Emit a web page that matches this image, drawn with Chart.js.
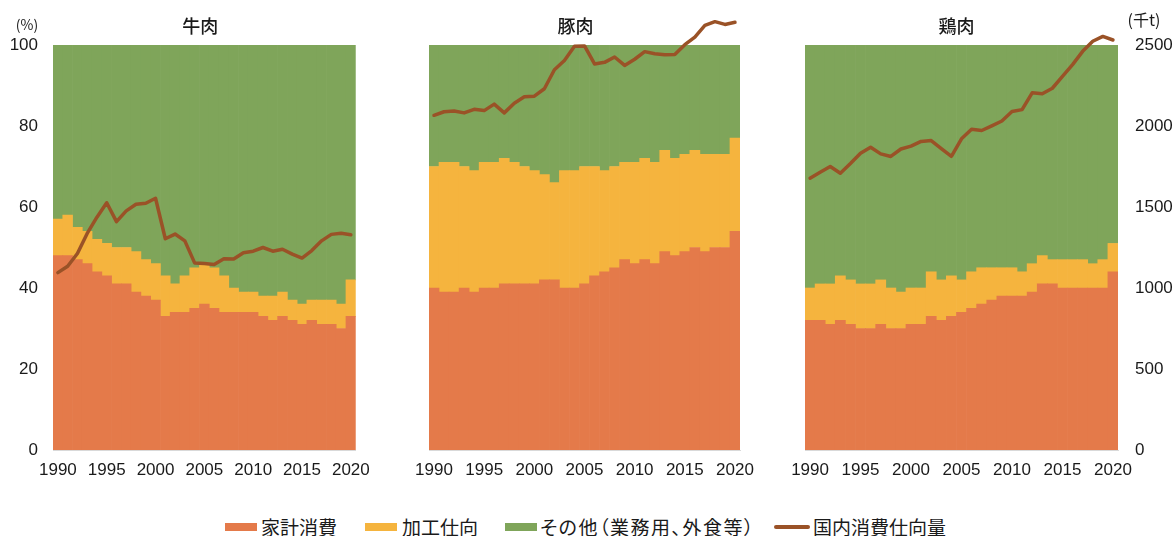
<!DOCTYPE html>
<html><head><meta charset="utf-8">
<script src="https://cdn.jsdelivr.net/npm/chart.js@4/dist/chart.umd.min.js"></script>
<style>
body{margin:0;background:#fff;width:1174px;height:536px;position:relative;overflow:hidden;font-family:"Noto Sans CJK JP",sans-serif;}
canvas{position:absolute;top:0;}
.box{position:absolute;}
.lt{position:absolute;top:516px;font-size:19px;line-height:22px;color:#1a1a1a;white-space:nowrap;}
</style></head><body>
<canvas id="c1" width="380" height="490" style="left:0px"></canvas>
<canvas id="c2" width="390" height="490" style="left:380px"></canvas>
<canvas id="c3" width="404" height="490" style="left:770px"></canvas>
<div id="legend"></div>
<script>
const years = ['1990','1991','1992','1993','1994','1995','1996','1997','1998','1999','2000','2001','2002','2003','2004','2005','2006','2007','2008','2009','2010','2011','2012','2013','2014','2015','2016','2017','2018','2019','2020'];
const seriesNames = ['家計消費','加工仕向','その他（業務用、外食等）','国内消費仕向量'];
const panelTitles = ['牛肉','豚肉','鶏肉'];
const pctTicks = [0,20,40,60,80,100];
const volTicks = [0,500,1000,1500,2000,2500];

// 牛肉 (%)
const beefHousehold  = [48,48,47,46,44,43,41,41,39,38,37,33,34,34,35,36,35,34,34,34,34,33,32,33,32,31,32,31,31,30,33];
const beefProcessing = [9,10,8,8,8,8,9,9,10,9,9,10,7,9,10,10,10,9,6,5,5,5,6,6,5,5,5,6,6,6,9];
const beefOther      = [43,42,45,46,48,49,50,50,51,53,54,57,59,57,55,54,55,57,60,61,61,62,62,61,63,64,63,63,63,64,58];
const beefVolume     = [1095,1134,1213,1337,1437,1526,1410,1476,1517,1523,1554,1304,1333,1291,1155,1151,1145,1180,1179,1218,1227,1250,1227,1239,1209,1185,1231,1291,1331,1338,1329];

// 豚肉 (%)
const porkHousehold  = [40,39,39,40,39,40,40,41,41,41,41,42,42,40,40,41,43,44,45,47,46,47,46,49,48,49,50,49,50,50,54];
const porkProcessing = [30,32,32,30,30,31,31,31,30,29,28,26,24,29,29,29,27,25,25,24,25,25,25,25,24,24,24,24,23,23,23];
const porkOther      = [30,29,29,30,31,29,29,28,29,30,31,32,34,31,31,30,30,31,30,29,29,28,29,26,28,27,26,27,27,27,23];
const porkVolume     = [2066,2088,2093,2081,2103,2095,2135,2081,2141,2180,2184,2230,2347,2404,2492,2494,2383,2393,2426,2374,2412,2459,2446,2440,2441,2502,2549,2621,2644,2627,2640];

// 鶏肉 (%)
const chickenHousehold  = [32,32,31,32,31,30,30,31,30,30,31,31,33,32,33,34,35,36,37,38,38,38,39,41,41,40,40,40,40,40,44];
const chickenProcessing = [8,9,10,11,11,11,11,11,10,9,9,9,11,10,10,8,9,9,8,7,7,6,7,7,6,7,7,7,6,7,7];
const chickenOther      = [60,59,59,57,58,59,59,58,60,61,60,60,56,58,57,58,56,55,55,55,55,56,54,52,53,53,53,53,54,53,49];
const chickenVolume     = [1678,1715,1750,1708,1768,1832,1869,1828,1812,1858,1876,1905,1910,1861,1813,1921,1980,1972,2001,2031,2089,2101,2205,2199,2233,2306,2379,2461,2523,2553,2531];

const COLORS = {household:'#E47A4A', processing:'#F5B43E', other:'#7FA55A', volume:'#9A5227'};
const TEXT = '#1a1a1a';
const tickFont = {family:'"Liberation Sans", Arial, sans-serif', size:17};

const textPlugin = {
  id:'panelText',
  afterDraw(chart, args, opts){
    const ctx = chart.ctx, a = chart.chartArea;
    (opts.items||[]).forEach(it=>{
      ctx.save();
      ctx.font = it.font;
      ctx.fillStyle = TEXT;
      ctx.textAlign = 'center';
      ctx.textBaseline = 'middle';
      const x = it.centered ? (a.left + a.right)/2 + it.dx : it.x;
      ctx.fillText(it.text, x, it.y);
      ctx.restore();
    });
  }
};

function makeChart(id, title, household, processing, other, volume, o){
  const items = [{text:title, centered:true, dx:o.titleDx, y:26, font:'500 18px "Noto Sans CJK JP", sans-serif'}].concat(o.extra||[]);
  return new Chart(document.getElementById(id), {
    data:{
      labels: years,
      datasets:[
        {type:'bar', label:seriesNames[0], data:household, backgroundColor:COLORS.household, yAxisID:'y', order:1},
        {type:'bar', label:seriesNames[1], data:processing, backgroundColor:COLORS.processing, yAxisID:'y', order:1},
        {type:'bar', label:seriesNames[2], data:other, backgroundColor:COLORS.other, yAxisID:'y', order:1},
        {type:'line', label:seriesNames[3], data:volume, borderColor:COLORS.volume, backgroundColor:COLORS.volume, borderWidth:3.5, pointRadius:0, tension:0, yAxisID:'y2', order:0, clip:false, borderCapStyle:'round', borderJoinStyle:'round'}
      ]
    },
    options:{
      responsive:false, animation:false, devicePixelRatio:1,
      layout:{padding:{top:45, left:o.padL, right:o.padR, bottom:0}},
      datasets:{bar:{barPercentage:1, categoryPercentage:1, borderWidth:0}},
      plugins:{legend:{display:false}, tooltip:{enabled:false}, panelText:{items}},
      scales:{
        x:{stacked:true, grid:{display:false, drawTicks:false}, border:{display:true, color:'#d9d9d9', width:1},
           ticks:{autoSkip:false, maxRotation:0, minRotation:0, padding:10, font:tickFont, color:TEXT,
                  callback:(v,i)=> (i%5===0 ? years[i] : '')},
           afterFit:s=>{s.height=40;}},
        y:{display:o.showLeft, stacked:true, min:0, max:100,
           afterBuildTicks:s=>{s.ticks = pctTicks.map(v=>({value:v}));},
           grid:{display:false, drawTicks:false}, border:{display:false},
           ticks:{padding:15, font:tickFont, color:TEXT, callback:v=>String(v)},
           afterFit:s=>{s.width = o.showLeft ? 53 : 0;}},
        y2:{display:o.showRight, position:'right', min:0, max:2500,
           afterBuildTicks:s=>{s.ticks = volTicks.map(v=>({value:v}));},
           grid:{display:false, drawTicks:false}, border:{display:false},
           ticks:{padding:17, font:tickFont, color:TEXT, callback:v=>String(v)},
           afterFit:s=>{s.width = o.showRight ? 56 : 0;}}
      }
    },
    plugins:[textPlugin]
  });
}

makeChart('c1', panelTitles[0], beefHousehold, beefProcessing, beefOther, beefVolume,
  {padL:0, padR:15, showLeft:true, showRight:false, titleDx:-4,
   extra:[{text:'(%)', x:27, y:25, font:'14px "Noto Sans CJK JP", sans-serif'}]});
makeChart('c2', panelTitles[1], porkHousehold, porkProcessing, porkOther, porkVolume,
  {padL:49, padR:30, showLeft:false, showRight:false, titleDx:-9});
makeChart('c3', panelTitles[2], chickenHousehold, chickenProcessing, chickenOther, chickenVolume,
  {padL:35, padR:0, showLeft:false, showRight:true, titleDx:-5,
   extra:[{text:'(千t)', x:374, y:20, font:'16px "Noto Sans CJK JP", sans-serif'}]});

// HTML legend
const lg = document.getElementById('legend');
const legendItems = [
  {name:seriesNames[0], color:COLORS.household, bx:225, tx:261, kind:'box', palt:false},
  {name:seriesNames[1], color:COLORS.processing, bx:365, tx:402, kind:'box', palt:false},
  {name:seriesNames[2], color:COLORS.other, bx:505, tx:540, kind:'box', palt:true},
  {name:seriesNames[3], color:COLORS.volume, bx:774, tx:813, kind:'line', palt:false}
];
legendItems.forEach(it=>{
  const b = document.createElement('div');
  b.className = 'box';
  b.style.left = it.bx + 'px';
  b.style.background = it.color;
  if(it.kind==='box'){ b.style.top='523px'; b.style.width='32px'; b.style.height='8px'; }
  else { b.style.top='525px'; b.style.width='36px'; b.style.height='3.5px'; b.style.borderRadius='2px'; }
  lg.appendChild(b);
  const t = document.createElement('span');
  t.className = 'lt';
  t.style.left = it.tx + 'px';
  if(it.palt){ t.style.fontFeatureSettings = '"palt"'; t.style.letterSpacing = '1.5px'; }
  t.textContent = it.name;
  lg.appendChild(t);
});
</script>
</body></html>
